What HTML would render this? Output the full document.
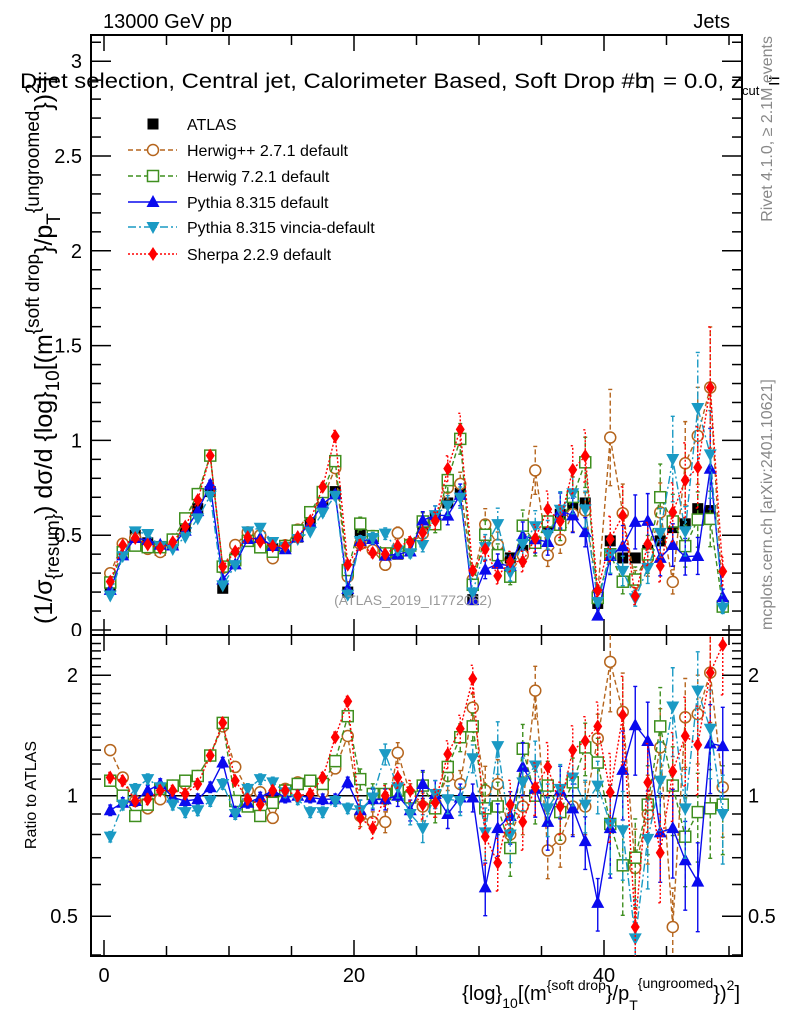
<!DOCTYPE html>
<html><head><meta charset="utf-8"><style>
html,body{margin:0;padding:0;background:#fff;}
svg{display:block;font-family:"Liberation Sans",sans-serif;}
</style></head><body>
<svg id="chart" width="786" height="1024" viewBox="0 0 786 1024">
<defs>
<clipPath id="clipMain"><rect x="91" y="35" width="651" height="600"/></clipPath>
<clipPath id="clipRatio"><rect x="91" y="635" width="651" height="321"/></clipPath>
</defs>
<text x="103" y="28" font-size="20">13000 GeV pp</text>
<text x="730" y="28" font-size="20" text-anchor="end">Jets</text>
<g id="axes"></g>
<g id="marks"></g>
<text x="413" y="605" font-size="14" fill="#999" text-anchor="middle">(ATLAS_2019_I1772062)</text>
<g>
<text x="20" y="88" font-size="21" textLength="628" lengthAdjust="spacingAndGlyphs">Dijet selection, Central jet, Calorimeter Based, Soft Drop #b</text>
<text x="643" y="88" font-size="21">η</text>
<text x="663" y="88" font-size="21" textLength="80" lengthAdjust="spacingAndGlyphs">= 0.0, z</text>
<text x="742" y="95" font-size="13">cut</text>
<text x="768" y="88" font-size="21">=</text>
</g>
<text transform="translate(772,36) rotate(-90)" font-size="16" fill="#888" text-anchor="end">Rivet 4.1.0, ≥ 2.1M events</text>
<text transform="translate(772,630) rotate(-90)" font-size="16" fill="#888">mcplots.cern.ch [arXiv:2401.10621]</text>
<text transform="translate(52,624) rotate(-90)" font-size="25">(1/σ<tspan font-size="19" dy="7">{resum}</tspan><tspan dy="-7">) dσ/d {log}</tspan><tspan font-size="19" dy="7">10</tspan><tspan dy="-7">[(m</tspan><tspan font-size="19" dy="-13">{soft drop</tspan><tspan dy="13">}/p</tspan><tspan font-size="19" dy="8">T</tspan><tspan font-size="19" dy="-21">{ungroomed</tspan><tspan dy="13">})</tspan><tspan font-size="19" dy="-13">2</tspan><tspan dy="13">]</tspan></text>
<text transform="translate(36,795) rotate(-90)" font-size="16" text-anchor="middle">Ratio to ATLAS</text>
<text x="740" y="1000" font-size="20" text-anchor="end">{log}<tspan font-size="14" dy="8">10</tspan><tspan dy="-8">[(m</tspan><tspan font-size="14" dy="-10">{soft drop</tspan><tspan dy="10">}/p</tspan><tspan font-size="14" dy="10">T</tspan><tspan font-size="14" dy="-22">{ungroomed</tspan><tspan dy="12">})</tspan><tspan font-size="14" dy="-10">2</tspan><tspan dy="10">]</tspan></text>
<g id="legend"></g>
</svg>
<script>
const atlas = [0.23,0.41,0.50,0.46,0.42,0.45,0.54,0.64,0.73,0.22,
0.38,0.50,0.49,0.43,0.43,0.49,0.57,0.68,0.73,0.20,
0.51,0.49,0.40,0.40,0.45,0.54,0.60,0.67,0.72,0.16,
0.54,0.42,0.38,0.42,0.46,0.54,0.61,0.65,0.67,0.14,
0.47,0.38,0.38,0.42,0.47,0.54,0.56,0.64,0.63,0.13];
const ratioHerwigpp = [1.30,1.11,0.97,0.93,0.98,1.06,1.07,1.12,1.26,1.49,1.18,1.03,1.02,0.88,1.04,1.08,1.09,1.02,1.17,1.41,0.89,0.86,0.86,1.28,1.01,0.94,0.96,1.12,1.07,1.66,1.03,1.07,0.80,0.94,1.83,0.73,0.78,0.94,0.94,1.39,2.16,1.62,0.66,0.90,1.32,0.47,1.57,1.60,2.03,1.05];
const ratioHerwig7 = [1.09,1.0,0.89,0.95,1.04,1.06,1.09,1.12,1.26,1.52,0.97,0.94,0.89,0.96,1.03,1.07,1.09,1.07,1.22,1.58,1.10,1.01,1.01,1.03,0.99,1.06,0.93,1.18,1.40,1.49,0.93,0.94,0.74,1.31,1.0,1.06,0.91,1.08,1.32,1.21,0.85,0.67,0.70,0.95,1.49,1.06,0.79,0.91,0.93,0.95];
const ratioPythia = [0.92,0.96,0.97,1.03,1.07,0.99,0.97,0.98,1.05,1.21,0.91,0.96,0.99,1.03,0.99,1.0,0.99,0.98,0.98,1.08,0.92,0.98,0.98,1.0,0.92,1.07,1.01,0.90,0.99,0.99,0.59,0.83,0.89,1.18,1.04,0.86,1.03,0.93,0.77,0.54,0.83,1.16,1.50,1.37,0.81,0.83,0.69,0.61,1.35,1.33];
const ratioVincia = [0.79,0.95,1.04,1.10,1.05,0.95,0.91,0.92,0.97,1.07,0.90,1.04,1.10,1.08,1.02,0.98,0.91,0.91,0.97,0.93,0.92,0.99,1.27,1.05,0.90,0.83,1.01,0.98,0.97,1.24,0.81,1.33,0.80,1.08,1.19,0.93,1.04,1.11,0.95,1.06,0.85,0.82,0.44,0.78,1.09,1.67,0.93,1.83,1.47,0.90];
const ratioSherpa = [1.11,1.09,0.97,0.98,1.03,1.03,1.01,1.07,1.26,1.52,1.09,0.98,0.95,1.03,1.03,1.0,1.01,1.11,1.40,1.72,0.88,0.83,1.0,1.11,1.03,0.95,0.96,1.27,1.47,1.96,0.79,0.68,0.95,0.86,1.05,1.18,0.94,1.30,1.37,1.49,1.02,1.59,0.47,1.08,0.72,1.15,1.41,1.34,2.03,2.38];
const relErr = [0.03,0.03,0.03,0.03,0.03,0.03,0.03,0.03,0.03,0.03,0.03,0.03,0.03,0.03,0.03,0.03,0.03,0.03,0.03,0.03,
0.06,0.06,0.06,0.06,0.06,0.08,0.08,0.08,0.08,0.08,0.15,0.15,0.15,0.15,0.15,0.15,0.15,0.15,0.15,0.15,
0.25,0.25,0.25,0.25,0.25,0.25,0.25,0.25,0.25,0.25];
const mainTicks = [0,0.5,1,1.5,2,2.5,3];
const ratioTickLabels = [0.5,1,2];
const xTickLabels = [0,20,40];

const NS = "http://www.w3.org/2000/svg";
const X0 = 104, XS = 12.5;
function xs(v){ return X0 + XS*v; }
function ym(v){ return 630 - 189.6*v; }
function yr(r){ return 795.7 - 120.5*Math.log2(r); }
function mk(tag, attrs, parent){
  const e = document.createElementNS(NS, tag);
  for (const k in attrs) e.setAttribute(k, attrs[k]);
  parent.appendChild(e); return e;
}
const axes = document.getElementById('axes');
const marks = document.getElementById('marks');

let f1 = mk('rect',{x:91,y:35,width:651,height:600,fill:'none',stroke:'#000','stroke-width':2},axes);


let f2 = mk('rect',{x:91,y:635,width:651,height:321,fill:'none',stroke:'#000','stroke-width':2},axes);



for (let v=0; v<=50; v+=5){
  const big = (v%20===0);
  const L = big?16:10;
  [[35,1],[635,-1],[635,1],[956,-1]].forEach(([y0,d])=>{
    const t = mk('line',{x1:xs(v),x2:xs(v),y1:y0,y2:y0+d*L,stroke:'#000','stroke-width':1.5},axes);
    
    
  });
}
xTickLabels.forEach(v=>{
  const t = mk('text',{x:xs(v),y:982,'font-size':20,'text-anchor':'middle'},axes);
  t.textContent = v;
  
  
});
for (let i=0;i<=31;i++){
  const v=i/10; const big=(i%5===0); const L=big?20:10;
  [[91,1],[742,-1]].forEach(([x0,d])=>{
    const t = mk('line',{x1:x0,x2:x0+d*L,y1:ym(v),y2:ym(v),stroke:'#000','stroke-width':1.5},axes);
    
    
  });
}
mainTicks.forEach(v=>{
  const t = mk('text',{x:82,y:ym(v)+7,'font-size':20,'text-anchor':'end'},axes);
  t.textContent = v;
  
  
});
let cover = mk('rect',{x:55,y:636,width:34,height:14,fill:'#fff'},axes);


const rt = [0.4,0.5,0.6,0.7,0.8,0.9,1,1.1,1.2,1.3,1.4,1.5,1.6,1.7,1.8,1.9,2,2.1,2.2,2.3,2.4];
rt.forEach(r=>{
  const big = (r===0.5||r===1||r===2); const L=big?20:10;
  if (yr(r)<636||yr(r)>955) return;
  [[91,1],[742,-1]].forEach(([x0,d])=>{
    const t = mk('line',{x1:x0,x2:x0+d*L,y1:yr(r),y2:yr(r),stroke:'#000','stroke-width':1.5},axes);
    
    
  });
});
ratioTickLabels.forEach(r=>{
  const t = mk('text',{x:78,y:yr(r)+7,'font-size':20,'text-anchor':'end'},axes);
  t.textContent = r;
  
  
  const t2 = mk('text',{x:748,y:yr(r)+7,'font-size':20},axes);
  t2.textContent = r;
  
  
});
let one = mk('line',{x1:91,x2:742,y1:yr(1),y2:yr(1),stroke:'#000','stroke-width':1.5},axes);



function marker(g, type, x, y, color){
  let e;
  if (type==='circle') e = mk('circle',{cx:x,cy:y,r:5.5,fill:'#fff',stroke:color,'stroke-width':1.5},g);
  else if (type==='square') e = mk('rect',{x:x-5.5,y:y-5.5,width:11,height:11,fill:'#fff',stroke:color,'stroke-width':1.5},g);
  else if (type==='atlas') e = mk('rect',{x:x-5.5,y:y-5.5,width:11,height:11,fill:'#000'},g);
  else if (type==='up') e = mk('path',{d:`M${x},${y-7}L${x+6.5},${y+5}L${x-6.5},${y+5}Z`,fill:color},g);
  else if (type==='down') e = mk('path',{d:`M${x},${y+7}L${x+6.5},${y-5}L${x-6.5},${y-5}Z`,fill:color},g);
  else e = mk('path',{d:`M${x},${y-7}L${x+4.5},${y}L${x},${y+7}L${x-4.5},${y}Z`,fill:color},g);
  return e;
}

const series = [
  {name:'Herwig++ 2.7.1 default', key:'herwigpp', ratio:ratioHerwigpp, color:'#b5651d', dash:'5,3', m:'circle'},
  {name:'Herwig 7.2.1 default', key:'herwig7', ratio:ratioHerwig7, color:'#3f8f1f', dash:'5,3', m:'square'},
  {name:'Pythia 8.315 default', key:'pythia', ratio:ratioPythia, color:'#0a0aee', dash:'', m:'up'},
  {name:'Pythia 8.315 vincia-default', key:'vincia', ratio:ratioVincia, color:'#1a9ac4', dash:'8,3,2,3', m:'down'},
  {name:'Sherpa 2.2.9 default', key:'sherpa', ratio:ratioSherpa, color:'#ff0000', dash:'2,2', m:'diamond'}
];

const gA = mk('g',{'clip-path':'url(#clipMain)'},marks);


atlas.forEach((v,i)=>{
  const p = marker(gA,'atlas',xs(i+0.5),ym(v),'#000');
  
  
});

series.forEach(s=>{
  [['main','url(#clipMain)'],['ratio','url(#clipRatio)']].forEach(([panel,clip])=>{
    const g = mk('g',{'clip-path':clip},marks);
    
    
    const yv = (i)=> panel==='main' ? atlas[i]*s.ratio[i] : s.ratio[i];
    const yf = panel==='main' ? ym : yr;
    const pts = s.ratio.map((r,i)=>xs(i+0.5)+','+yf(yv(i)).toFixed(1)).join(' ');
    const pl = mk('polyline',{points:pts,fill:'none',stroke:s.color,'stroke-width':1.4,'stroke-dasharray':s.dash},g);
    
    
    s.ratio.forEach((r,i)=>{
      const x = xs(i+0.5), v = yv(i), e = relErr[i];
      const lo = Math.max(v*(1-e), 0.05), hi = v*(1+e);
      const eb = mk('path',{d:`M${x},${yf(lo)}L${x},${yf(hi)}M${x-2},${yf(lo)}L${x+2},${yf(lo)}M${x-2},${yf(hi)}L${x+2},${yf(hi)}`,stroke:s.color,'stroke-width':1.4,'stroke-dasharray':s.dash,fill:'none'},g);
      
      
      const p = marker(g,s.m,x,yf(v),s.color);
      
      
    });
  });
});

const leg = document.getElementById('legend');
const rows = [124,150,176,202,227,254];
const la = marker(leg,'atlas',153,rows[0],'#000');


const lt = mk('text',{x:187,y:rows[0]+6,'font-size':16},leg);
lt.textContent='ATLAS';


series.forEach((s,k)=>{
  const y = rows[k+1];
  const l = mk('line',{x1:128,x2:177,y1:y,y2:y,stroke:s.color,'stroke-width':1.4,'stroke-dasharray':s.dash},leg);
  
  
  const m = marker(leg,s.m,153,y,s.color);
  
  
  const t = mk('text',{x:187,y:y+6,'font-size':16},leg);
  t.textContent = s.name;
  
  
});
</script>
</body></html>
